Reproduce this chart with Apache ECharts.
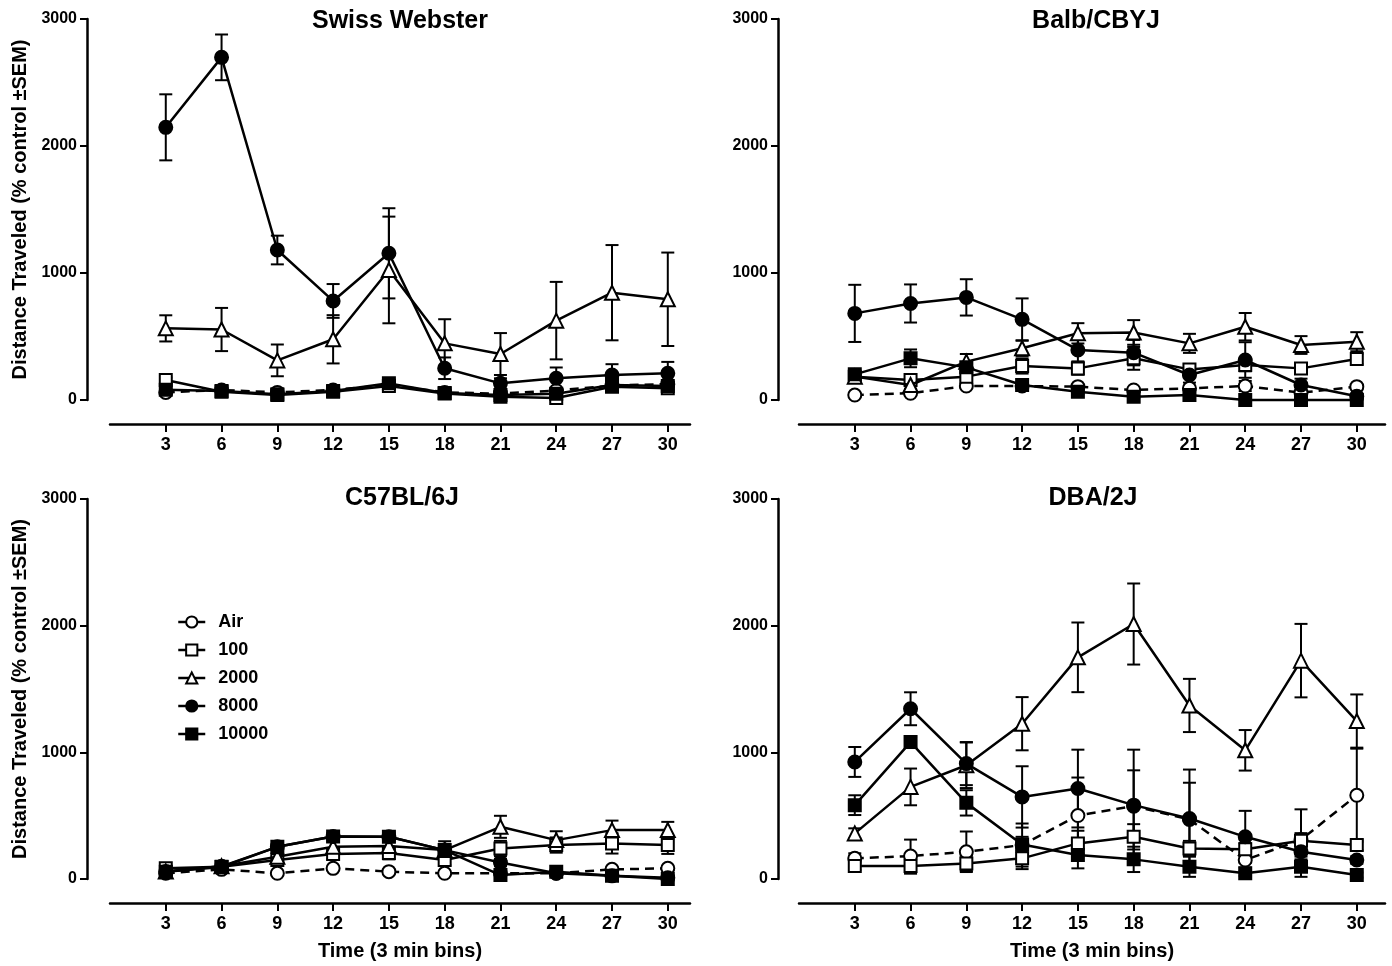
<!DOCTYPE html>
<html><head><meta charset="utf-8">
<script src="https://cdn.jsdelivr.net/npm/echarts@6/dist/echarts.min.js"></script>
<style>html,body{margin:0;padding:0;background:#fff}#c{width:1392px;height:966px}</style>
</head><body><div id="c"></div>
<script>
// ---- data ----
const times = [3, 6, 9, 12, 15, 18, 21, 24, 27, 30];
const xTicks = [3, 6, 9, 12, 15, 18, 21, 24, 27, 30];
const doses = ['Air', '100', '2000', '8000', '10000'];
const strains = ['Swiss Webster', 'Balb/CBYJ', 'C57BL/6J', 'DBA/2J'];
const yTitle = 'Distance Traveled (% control \u00B1SEM)';
const xTitle = 'Time (3 min bins)';

// Swiss Webster
const swAir      = [60, 79, 60, 79, 118, 60, 50, 75, 114, 125];
const swAirSem   = [15, 15, 15, 20, 30, 15, 15, 20, 25, 20];
const sw100      = [157, 65, 39, 65, 110, 52, 26, 15, 105, 92];
const sw100Sem   = [20, 15, 10, 15, 20, 10, 10, 10, 20, 15];
const sw2000     = [564, 555, 312, 478, 1024, 446, 362, 625, 845, 793];
const sw2000Sem  = [103, 170, 125, 190, 420, 190, 165, 305, 375, 368];
const sw8000     = [2147, 2698, 1181, 780, 1155, 250, 131, 171, 197, 210];
const sw8000Sem  = [260, 180, 113, 133, 355, 85, 40, 85, 85, 90];
const sw10000    = [80, 70, 45, 70, 131, 55, 40, 50, 118, 110];
const sw10000Sem = [15, 15, 10, 15, 30, 10, 10, 10, 20, 15];

// Balb/CBYJ
const bcAir      = [39, 53, 110, 110, 105, 79, 92, 110, 58, 105];
const bcAirSem   = [15, 15, 15, 15, 15, 15, 15, 40, 15, 15];
const bc100      = [184, 157, 184, 268, 249, 328, 241, 276, 249, 323];
const bc100Sem   = [20, 20, 30, 60, 50, 90, 40, 50, 30, 40];
const bc2000     = [184, 118, 302, 407, 525, 532, 446, 577, 433, 459];
const bc2000Sem  = [30, 30, 60, 60, 80, 97, 75, 108, 70, 75];
const bc8000     = [682, 760, 808, 635, 394, 373, 197, 315, 118, 30];
const bc8000Sem  = [225, 150, 143, 165, 90, 100, 60, 140, 50, 20];
const bc10000    = [202, 328, 257, 118, 65, 26, 39, 0, 0, 0];
const bc10000Sem = [20, 70, 40, 20, 15, 10, 10, 5, 5, 5];

// C57BL/6J
const c5Air      = [45, 76, 45, 84, 58, 45, 45, 45, 76, 84];
const c5AirSem   = [15, 15, 15, 15, 15, 15, 15, 15, 15, 15];
const c5100      = [84, 97, 150, 197, 205, 150, 241, 268, 281, 268];
const c5100Sem   = [20, 20, 30, 40, 50, 40, 60, 60, 80, 70];
const c52000     = [60, 100, 176, 254, 260, 228, 412, 307, 386, 386];
const c52000Sem  = [15, 20, 30, 40, 50, 70, 87, 70, 75, 65];
const c58000     = [60, 100, 254, 335, 333, 228, 130, 45, 25, 10];
const c58000Sem  = [10, 15, 25, 30, 40, 40, 30, 15, 10, 10];
const c510000    = [58, 95, 254, 335, 333, 228, 31, 58, 25, 0];
const c510000Sem = [10, 15, 20, 25, 30, 25, 15, 15, 10, 5];

// DBA/2J
const dbAir      = [163, 181, 215, 268, 501, 575, 470, 150, 310, 661];
const dbAirSem   = [40, 130, 160, 170, 300, 283, 290, 60, 240, 368];
const db100      = [102, 102, 123, 163, 281, 333, 241, 234, 302, 268];
const db100Sem   = [30, 60, 60, 85, 100, 100, 60, 50, 60, 40];
const db2000     = [360, 727, 898, 1226, 1750, 2013, 1370, 1016, 1724, 1247];
const db2000Sem  = [40, 145, 180, 210, 275, 320, 210, 160, 290, 210];
const db8000     = [924, 1344, 911, 648, 714, 583, 478, 333, 215, 150];
const db8000Sem  = [118, 130, 170, 242, 307, 438, 386, 205, 60, 30];
const db10000    = [583, 1081, 601, 273, 189, 155, 97, 45, 97, 31];
const db10000Sem = [78, 40, 100, 60, 105, 100, 80, 20, 80, 20];

const panelMeans = [
  [swAir, sw100, sw2000, sw8000, sw10000],
  [bcAir, bc100, bc2000, bc8000, bc10000],
  [c5Air, c5100, c52000, c58000, c510000],
  [dbAir, db100, db2000, db8000, db10000]
];
const panelSems = [
  [swAirSem, sw100Sem, sw2000Sem, sw8000Sem, sw10000Sem],
  [bcAirSem, bc100Sem, bc2000Sem, bc8000Sem, bc10000Sem],
  [c5AirSem, c5100Sem, c52000Sem, c58000Sem, c510000Sem],
  [dbAirSem, db100Sem, db2000Sem, db8000Sem, db10000Sem]
];

// ---- styling ----
const FONT = '"Liberation Sans", Arial, sans-serif';
const symbols = ['circle', 'rect', 'triangle', 'circle', 'rect'];
const symSizes = [13, 12, 14, 13, 12];
const fills = ['#fff', '#fff', '#fff', '#000', '#000'];
const seriesZ = [3, 4, 5, 7, 6];
const grids = [
  {left: 110, top: 19, width: 580, height: 381},
  {left: 799, top: 19, width: 586, height: 381},
  {left: 110, top: 499, width: 580, height: 380},
  {left: 799, top: 499, width: 586, height: 380}
];
const xMax = [580 / 18.593, 586 / 18.593, 580 / 18.593, 586 / 18.593];
const yOffsets = [23, 21, 23, 21];
const titlePos = [[400, 9], [1096, 9], [402, 486], [1093, 486]];

function renderErr(params, api) {
  const x = api.value(0), lo = api.value(1), hi = api.value(2);
  const pT = api.coord([x, hi]);
  const pB = api.coord([x, lo]);
  const w = 6.5;
  const style = {stroke: '#000', lineWidth: 2, fill: null};
  return {type: 'group', children: [
    {type: 'line', shape: {x1: pT[0], y1: pT[1], x2: pB[0], y2: pB[1]}, style: style},
    {type: 'line', shape: {x1: pT[0] - w, y1: pT[1], x2: pT[0] + w, y2: pT[1]}, style: style},
    {type: 'line', shape: {x1: pB[0] - w, y1: pB[1], x2: pB[0] + w, y2: pB[1]}, style: style}
  ]};
}

const xAxes = [], yAxes = [], series = [], titles = [];
for (let p = 0; p < 4; p++) {
  const bottom = p >= 2, left = p % 2 === 0;
  xAxes.push({
    gridIndex: p, type: 'value', min: 0, max: xMax[p], offset: 24,
    axisLine: {show: true, onZero: false, lineStyle: {color: '#000', width: 2.5}},
    axisTick: {show: true, customValues: xTicks, length: 8, lineStyle: {color: '#000', width: 2}},
    axisLabel: {customValues: xTicks, fontSize: 18, fontWeight: 'bold', color: '#000', fontFamily: FONT, margin: 12},
    splitLine: {show: false},
    name: bottom ? xTitle : '', nameLocation: 'middle', nameGap: 38,
    nameTextStyle: {fontSize: 20, fontWeight: 'bold', color: '#000', fontFamily: FONT}
  });
  yAxes.push({
    gridIndex: p, type: 'value', min: 0, max: 3000, interval: 1000, offset: yOffsets[p],
    axisLine: {show: true, onZero: false, lineStyle: {color: '#000', width: 2.5}},
    axisTick: {show: true, length: 7, lineStyle: {color: '#000', width: 2}},
    axisLabel: {fontSize: 16, fontWeight: 'bold', color: '#000', fontFamily: FONT, margin: 10,
      formatter: function (v) { return String(v); }},
    splitLine: {show: false},
    name: left ? yTitle : '', nameLocation: 'middle', nameRotate: 90, nameGap: 57,
    nameTextStyle: {fontSize: 20, fontWeight: 'bold', color: '#000', fontFamily: FONT}
  });
  titles.push({
    text: strains[p], left: titlePos[p][0], top: titlePos[p][1], textAlign: 'center', padding: 0,
    textStyle: {fontSize: 25, fontWeight: 'bold', color: '#000', fontFamily: FONT}
  });
  const errData = [];
  for (let s = 0; s < 5; s++) {
    const m = panelMeans[p][s], e = panelSems[p][s];
    for (let i = 0; i < times.length; i++) {
      errData.push([times[i], Math.max(0, m[i] - e[i]), m[i] + e[i]]);
    }
  }
  series.push({
    type: 'custom', xAxisIndex: p, yAxisIndex: p, renderItem: renderErr,
    data: errData, encode: {x: 0, y: [1, 2]}, z: 1, clip: false, silent: true
  });
  for (let s = 0; s < 5; s++) {
    const m = panelMeans[p][s];
    series.push({
      type: 'line', name: doses[s], xAxisIndex: p, yAxisIndex: p,
      data: times.map((t, i) => [t, m[i]]),
      symbol: symbols[s], symbolSize: symSizes[s], showAllSymbol: true,
      lineStyle: {color: '#000', width: 2.5, type: s === 0 ? [9, 6] : 'solid'},
      itemStyle: {color: fills[s], borderColor: '#000', borderWidth: 2, opacity: 1},
      z: seriesZ[s], silent: true, clip: false
    });
  }
}

const chart = echarts.init(document.getElementById('c'), null, {renderer: 'canvas'});
chart.setOption({
  animation: false,
  backgroundColor: '#fff',
  title: titles,
  grid: grids,
  xAxis: xAxes,
  yAxis: yAxes,
  legend: {
    data: doses, orient: 'vertical', left: 172, top: 608,
    itemWidth: 27, itemHeight: 14, itemGap: 10, selectedMode: false,
    lineStyle: {type: 'solid', width: 2.5, color: '#000'},
    textStyle: {fontSize: 18, lineHeight: 18, fontWeight: 'bold', color: '#000', fontFamily: FONT, padding: [0, 0, 0, 8]}
  },
  series: series
});
</script>
</body></html>
